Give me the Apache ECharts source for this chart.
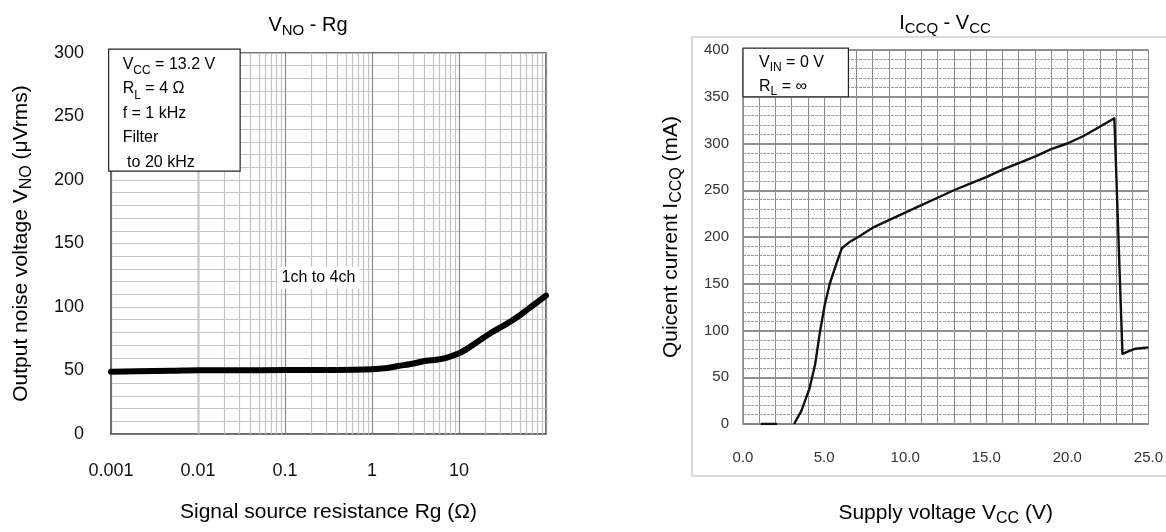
<!DOCTYPE html>
<html>
<head>
<meta charset="utf-8">
<script src="https://cdn.jsdelivr.net/npm/echarts@6/dist/echarts.min.js"></script>
<style>
html,body{margin:0;padding:0;background:#fff;}
#c{width:1166px;height:532px;}
</style>
</head>
<body>
<div id="c"></div>
<script>
// ---------- data: left chart (VNO - Rg) ----------
const rgValues  = [0.001, 0.002, 0.005, 0.01, 0.03, 0.1, 0.3, 1, 1.5, 2, 3, 4.2, 5.5, 7, 10, 13, 17, 22, 30, 40, 50, 70, 100];
const vnoValues = [49, 49.5, 49.8, 50.2, 50.2, 50.3, 50.4, 51, 52, 53.5, 55.5, 57.7, 58.5, 59.8, 63.5, 68, 73.5, 78.5, 84, 89, 93.5, 101, 109];
const rgTickLabels = ['0.001', '0.01', '0.1', '1', '10', ''];
const rgDecades = [0.001, 0.01, 0.1, 1, 10];
const rgMinorMult = [2, 3, 4, 5, 6, 7, 8, 9];

// ---------- data: right chart (ICCQ - VCC) ----------
const vccValues  = [1.1, 2.1, 2.6, 3.15, 3.6, 4.1, 4.45, 4.75, 5.05, 5.35, 5.75, 6.1, 6.6, 7.2, 8, 9, 10, 11, 12, 13, 14, 15, 16, 17, 18, 19, 20, 21, 22, 22.9, 23.4, 23.8, 24.2, 25];
const iccqValues = [0, 0, '-', 0, 14, 38, 64, 99, 128, 150, 171, 188, 195, 201, 210, 218, 226, 234, 242, 250, 257, 264, 272, 279, 286, 294, 300, 308, 318, 327, 75, 78, 80.5, 82];
const vccTickLabels = ['0.0', '5.0', '10.0', '15.0', '20.0', '25.0'];

const FONT = 'Liberation Sans, Arial, sans-serif';
const LEFT = {left: 111, top: 53, width: 435, height: 381};
const RIGHT = {left: 743, top: 50, width: 406, height: 377};

function richSet(size, sub) {
  return {
    a: {fontSize: size, fontFamily: FONT, fontWeight: 'normal', color: '#000', lineHeight: size + 6},
    b: {fontSize: sub, fontFamily: FONT, fontWeight: 'normal', color: '#000', lineHeight: size + 6, verticalAlign: 'bottom'}
  };
}

const minorLines = [];
rgDecades.forEach(d => rgMinorMult.forEach(m => minorLines.push({xAxis: +(d * m).toPrecision(3)})));

const chart = echarts.init(document.getElementById('c'), null, {renderer: 'canvas'});

const option = {
  animation: false,
  backgroundColor: '#fff',
  title: [
    {text: '{a|V}{b|NO}{a| - Rg}', left: 303, top: 7, textAlign: 'center',
     textStyle: {fontWeight: 'normal', rich: richSet(20, 15)}},
    {text: '{a|I}{b|CCQ}{a| - V}{b|CC}', left: 940, top: 5, textAlign: 'center',
     textStyle: {fontWeight: 'normal', rich: richSet(20, 15)}}
  ],
  grid: [
    Object.assign({show: true, borderColor: '#444', borderWidth: 1.5, backgroundColor: '#fff'}, LEFT),
    Object.assign({show: false}, RIGHT)
  ],
  xAxis: [
    {
      gridIndex: 0, type: 'log', logBase: 10, min: 0.001, max: 100,
      name: 'Signal source resistance Rg (Ω)', nameLocation: 'middle', nameGap: 68,
      nameTextStyle: {fontSize: 21, fontFamily: FONT, color: '#000'},
      axisLine: {show: true, lineStyle: {color: '#666', width: 1.5}},
      axisTick: {show: false},
      axisLabel: {
        margin: 28, fontSize: 18, fontFamily: FONT, color: '#111',
        formatter: function (v) {
          const i = Math.round(Math.log10(v) + 3);
          return rgTickLabels[i] !== undefined ? rgTickLabels[i] : '';
        }
      },
      splitLine: {show: true, lineStyle: {color: '#8c8c8c', width: 1.2}}
    },
    {
      gridIndex: 1, type: 'value', min: 0, max: 25, interval: 5,
      name: '{a|Supply voltage V}{b|CC}{a| (V)}', nameLocation: 'middle', nameGap: 76,
      nameTextStyle: {rich: richSet(21, 16)},
      axisLine: {show: true, lineStyle: {color: '#888', width: 1.5}},
      axisTick: {show: false},
      axisLabel: {
        margin: 26, fontSize: 15, fontFamily: FONT, color: '#333',
        formatter: function (v) { return vccTickLabels[Math.round(v / 5)]; }
      },
      splitLine: {show: true, lineStyle: {color: '#8a8a8a', width: 1}},
      minorTick: {show: false, splitNumber: 5},
      minorSplitLine: {show: true, lineStyle: {color: '#8a8a8a', width: 1}}
    }
  ],
  yAxis: [
    {
      gridIndex: 0, type: 'value', min: 0, max: 300, interval: 50,
      name: '{a|Output noise voltage V}{b|NO}{a| (μVrms)}', nameLocation: 'middle', nameGap: 76,
      nameTextStyle: {rich: richSet(21, 16)},
      axisLine: {show: true, lineStyle: {color: '#666', width: 1.5}},
      axisTick: {show: false},
      axisLabel: {margin: 27, fontSize: 18, fontFamily: FONT, color: '#111'},
      splitLine: {show: true, lineStyle: {color: '#c4c4c4', width: 1.2}},
      minorTick: {show: false, splitNumber: 5},
      minorSplitLine: {show: true, lineStyle: {color: '#c4c4c4', width: 1.2}}
    },
    {
      gridIndex: 1, type: 'value', min: 0, max: 400, interval: 50,
      name: '{a|Quicent current I}{b|CCQ}{a| (mA)}', nameLocation: 'middle', nameGap: 58,
      nameTextStyle: {rich: richSet(21, 16)},
      axisLine: {show: true, lineStyle: {color: '#888', width: 1.5}},
      axisTick: {show: false},
      axisLabel: {margin: 14, fontSize: 15, fontFamily: FONT, color: '#333'},
      splitLine: {show: true, lineStyle: {color: '#6a6a6a', width: 1.6}},
      minorTick: {show: false, splitNumber: 5},
      minorSplitLine: {show: true, lineStyle: {color: '#9a9a9a', width: 1, type: [3, 1]}}
    }
  ],
  series: [
    {
      type: 'line', xAxisIndex: 0, yAxisIndex: 0, z: 10,
      data: [], symbol: 'none', silent: true,
      markLine: {
        silent: true, symbol: ['none', 'none'], label: {show: false},
        lineStyle: {color: '#c4c4c4', width: 1.2, type: 'solid'},
        emphasis: {disabled: true},
        data: minorLines
      }
    },
    {
      type: 'line', xAxisIndex: 0, yAxisIndex: 0, z: 20,
      data: rgValues.map((x, i) => [x, vnoValues[i]]),
      symbol: 'none', smooth: 0.3, silent: true,
      lineStyle: {color: '#000', width: 6, cap: 'round', join: 'round'}
    },
    {
      type: 'line', xAxisIndex: 1, yAxisIndex: 1, z: 20,
      data: vccValues.map((x, i) => [x, iccqValues[i]]),
      symbol: 'none', smooth: false, connectNulls: false, silent: true,
      lineStyle: {color: '#111', width: 2.4, join: 'round'}
    }
  ]
};
chart.setOption(option);

// annotations placed through the chart's own coordinate conversion
const lbl = chart.convertToPixel({xAxisIndex: 0, yAxisIndex: 0}, [0.242, 123]);
const box1TL = chart.convertToPixel({xAxisIndex: 0, yAxisIndex: 0}, [0.00094, 303]);
const box1BR = chart.convertToPixel({xAxisIndex: 0, yAxisIndex: 0}, [0.0305, 207]);
const box2TL = chart.convertToPixel({xAxisIndex: 1, yAxisIndex: 1}, [0, 402]);
const box2BR = chart.convertToPixel({xAxisIndex: 1, yAxisIndex: 1}, [6.5, 350]);

const annRich = {
  a: {fontSize: 16, fontFamily: FONT, color: '#000', lineHeight: 24.5},
  b: {fontSize: 12, fontFamily: FONT, color: '#000', lineHeight: 24.5, verticalAlign: 'bottom'}
};
const annRich2 = {
  a: {fontSize: 16, fontFamily: FONT, color: '#000', lineHeight: 24},
  b: {fontSize: 12, fontFamily: FONT, color: '#000', lineHeight: 24, verticalAlign: 'bottom'}
};

chart.setOption({
  graphic: [
    {type: 'rect', z: 100, silent: true,
     shape: {x: 692, y: 37, width: 490, height: 439},
     style: {fill: 'none', stroke: '#cfcfcf', lineWidth: 1.5}},
    {type: 'rect', z: 100, silent: true,
     shape: {x: box1TL[0], y: box1TL[1], width: box1BR[0] - box1TL[0], height: box1BR[1] - box1TL[1]},
     style: {fill: '#fff', stroke: '#222', lineWidth: 1.2}},
    {type: 'text', z: 101, silent: true, x: box1TL[0] + 14, y: box1TL[1] + 3,
     style: {text: '{a|V}{b|CC}{a| = 13.2 V}\n{a|R}{b|L}{a| = 4 Ω}\n{a|f = 1 kHz}\n{a|Filter}\n{a| to 20 kHz}', rich: annRich}},
    {type: 'rect', z: 100, silent: true,
     shape: {x: box2TL[0], y: box2TL[1], width: box2BR[0] - box2TL[0], height: box2BR[1] - box2TL[1]},
     style: {fill: '#fff', stroke: '#222', lineWidth: 1.2}},
    {type: 'text', z: 101, silent: true, x: box2TL[0] + 16, y: box2TL[1] + 2,
     style: {text: '{a|V}{b|IN}{a| = 0 V}\n{a|R}{b|L}{a| = ∞}', rich: annRich2}},
    {type: 'text', z: 101, silent: true, x: lbl[0], y: lbl[1],
     style: {text: '1ch to 4ch', font: '16px ' + FONT, fill: '#000', align: 'center', verticalAlign: 'middle',
             backgroundColor: '#fff', padding: [3, 4]}}
  ]
});
</script>
</body>
</html>
